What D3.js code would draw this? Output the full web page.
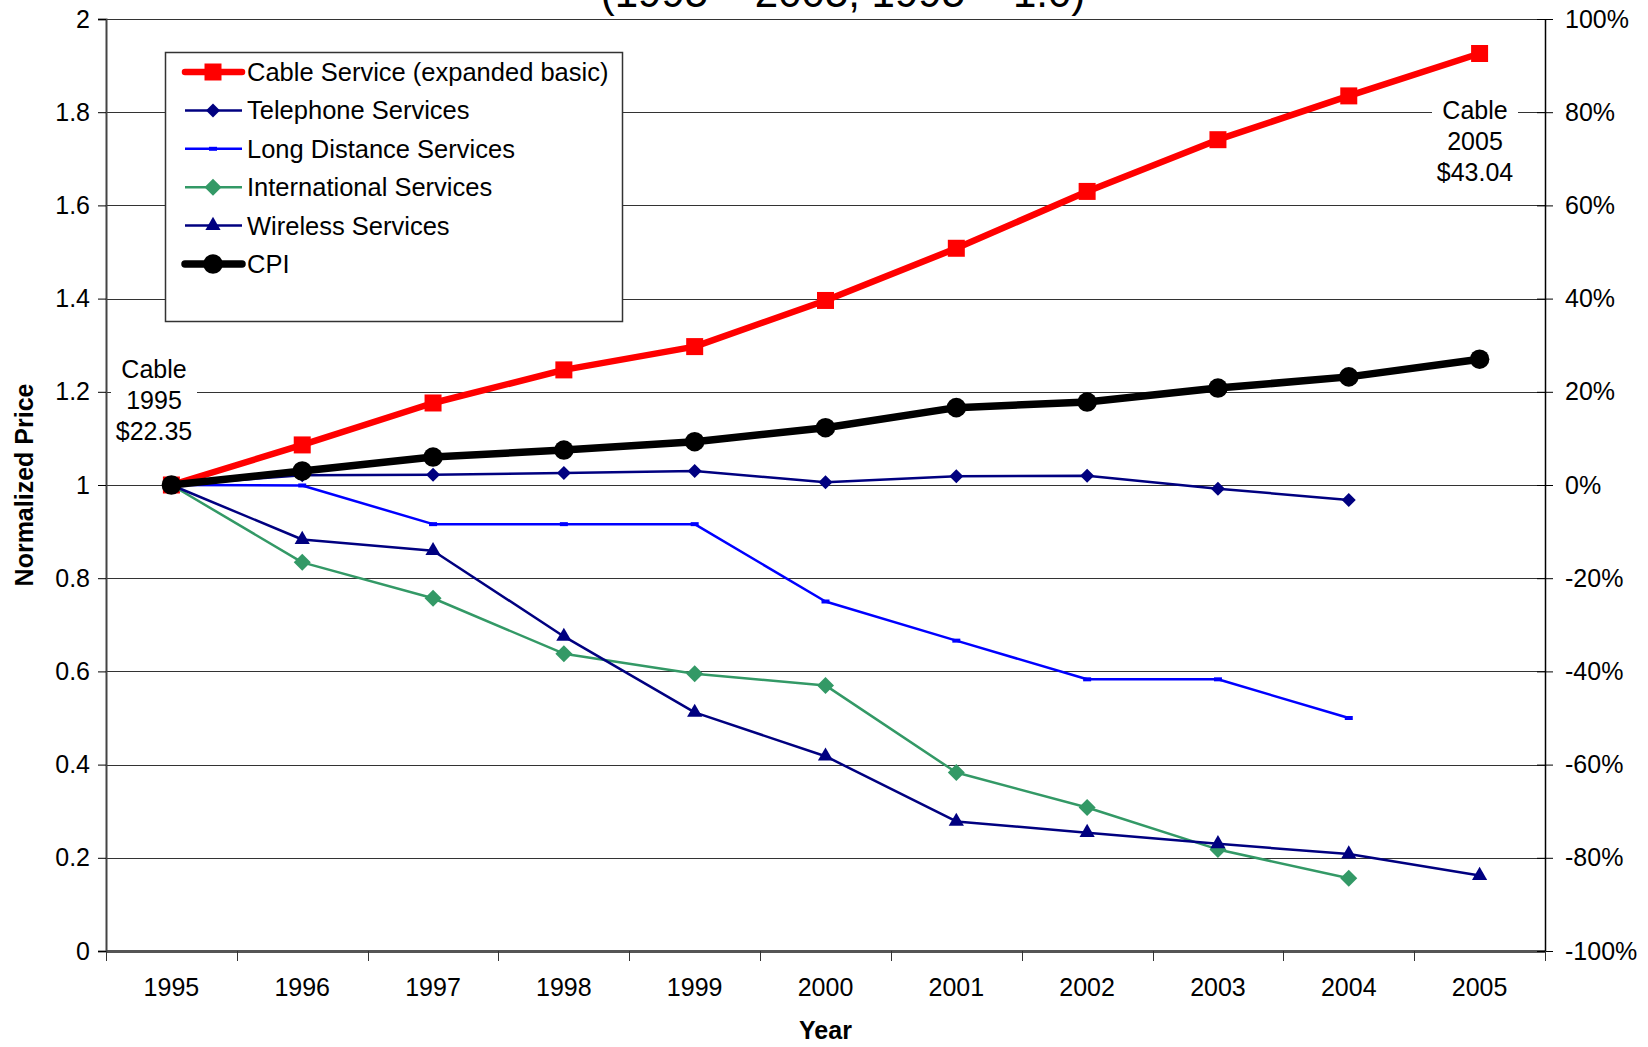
<!DOCTYPE html>
<html>
<head>
<meta charset="utf-8">
<script src="https://cdn.jsdelivr.net/npm/d3@7"></script>
<style>
  html, body { margin: 0; padding: 0; background: #fff; }
  svg { display: block; font-family: "Liberation Sans", Arial, sans-serif; }
</style>
</head>
<body>
<div id="chart"></div>
<script>
// Price indices, normalized to 1995 = 1.0
const years = ["1995", "1996", "1997", "1998", "1999", "2000", "2001", "2002", "2003", "2004", "2005"];
const cable = [1.000, 1.086, 1.176, 1.247, 1.297, 1.396, 1.508, 1.630, 1.741, 1.835, 1.926];
const telephone = [1.000, 1.021, 1.022, 1.026, 1.030, 1.006, 1.019, 1.020, 0.992, 0.968, null];
const longDistance = [1.000, 0.999, 0.916, 0.916, 0.916, 0.750, 0.666, 0.583, 0.583, 0.500, null];
const international = [1.000, 0.834, 0.757, 0.638, 0.595, 0.570, 0.383, 0.308, 0.218, 0.156, null];
const wireless = [1.000, 0.883, 0.859, 0.675, 0.512, 0.418, 0.278, 0.254, 0.230, 0.208, 0.162];
const cpi = [1.000, 1.030, 1.060, 1.075, 1.093, 1.123, 1.166, 1.178, 1.208, 1.232, 1.270];

const leftTicks = [0, 0.2, 0.4, 0.6, 0.8, 1, 1.2, 1.4, 1.6, 1.8, 2];
const rightTicks = [-100, -80, -60, -40, -20, 0, 20, 40, 60, 80, 100];

const series = [
    { name: "Cable Service (expanded basic)", values: cable, color: "#ff0000", width: 6.5, marker: "square" },
    { name: "Telephone Services", values: telephone, color: "#000080", width: 2.5, marker: "diamondSmall" },
    { name: "Long Distance Services", values: longDistance, color: "#0000ff", width: 2.5, marker: "dash" },
    { name: "International Services", values: international, color: "#339966", width: 2.5, marker: "diamond" },
    { name: "Wireless Services", values: wireless, color: "#000080", width: 2.5, marker: "triangle" },
    { name: "CPI", values: cpi, color: "#000000", width: 7.5, marker: "circle" }
];

const W = 1648, H = 1047;
const margin = { top: 19, right: 103, bottom: 96, left: 106 };
const width = W - margin.left - margin.right;
const height = H - margin.top - margin.bottom;

const root = d3.select("#chart").append("svg")
    .attr("width", W)
    .attr("height", H);

// title, second line only partly visible at the top edge
root.append("text")
    .attr("x", 843)
    .attr("y", 7)
    .attr("text-anchor", "middle")
    .attr("font-size", "42px")
    .text("(1995 \u2013 2005, 1995 = 1.0)");

const svg = root.append("g")
    .attr("transform", `translate(${margin.left},${margin.top})`);

const x = d3.scaleBand().domain(years).range([0, width]);
const y = d3.scaleLinear().domain([0, 2]).range([height, 0]);
const yR = d3.scaleLinear().domain([-100, 100]).range([height, 0]);
const cx = d => x(d) + x.bandwidth() / 2;

// Grid
svg.append("g")
    .selectAll("line")
    .data(leftTicks)
    .join("line")
    .attr("x1", 0)
    .attr("x2", width)
    .attr("y1", d => Math.round(y(d)) + 0.5)
    .attr("y2", d => Math.round(y(d)) + 0.5)
    .attr("stroke", d => d === 0 ? "#555" : "#333")
    .attr("stroke-width", d => d === 0 ? 3 : 1);

// Axes
const fontSize = "25px";
svg.append("g")
    .call(d3.axisLeft(y).tickValues(leftTicks).tickSize(8).tickPadding(8).tickFormat(d3.format("")))
    .call(g => g.select(".domain").attr("stroke", "#444").attr("stroke-width", 2))
    .call(g => g.selectAll("text").attr("font-size", fontSize).attr("fill", "#000").attr("font-family", "Liberation Sans, Arial, sans-serif"));

const right = svg.append("g")
    .attr("transform", `translate(${width},0)`)
    .call(d3.axisRight(yR).tickValues(rightTicks).tickSizeInner(8).tickSizeOuter(0).tickPadding(12).tickFormat(d => d + "%"))
    .call(g => g.select(".domain").attr("stroke", "#000").attr("stroke-width", 1.5))
    .call(g => g.selectAll("text").attr("font-size", fontSize).attr("fill", "#000").attr("font-family", "Liberation Sans, Arial, sans-serif"));
right.selectAll(".tick line").attr("x1", -8);

// category axis with ticks between the years
const xAxis = svg.append("g").attr("transform", `translate(0,${height})`);
xAxis.append("g")
    .selectAll("line")
    .data(d3.range(years.length + 1))
    .join("line")
    .attr("x1", i => Math.round(i * x.step()) + 0.5)
    .attr("x2", i => Math.round(i * x.step()) + 0.5)
    .attr("y1", 0)
    .attr("y2", 10)
    .attr("stroke", "#333");
xAxis.selectAll(".year")
    .data(years)
    .join("text")
    .attr("class", "year")
    .attr("x", d => cx(d))
    .attr("y", 45)
    .attr("text-anchor", "middle")
    .attr("font-size", fontSize)
    .text(d => d);

// Axis titles
svg.append("text")
    .attr("x", width / 2)
    .attr("y", height + 88)
    .attr("text-anchor", "middle")
    .attr("font-size", fontSize)
    .attr("font-weight", "bold")
    .text("Year");

svg.append("text")
    .attr("transform", `translate(${-73},${y(1)}) rotate(-90)`)
    .attr("text-anchor", "middle")
    .attr("font-size", fontSize)
    .attr("font-weight", "bold")
    .text("Normalized Price");

// Markers
function markerPath(type) {
    switch (type) {
        case "square": return d3.symbol(d3.symbolSquare, 289)();
        case "circle": return d3.symbol(d3.symbolCircle, 300)();
        case "triangle": return d3.symbol(d3.symbolTriangle, 100)();
        case "diamond": return "M0,-8.5L8.5,0L0,8.5L-8.5,0Z";
        case "diamondSmall": return "M0,-7L7,0L0,7L-7,0Z";
        case "dash": return "M-4,-2H4V2H-4Z";
    }
}

const line = d3.line()
    .defined(d => d.v != null)
    .x(d => cx(d.year))
    .y(d => y(d.v));

// Lines
series.forEach(s => {
    const pts = years.map((yr, i) => ({ year: yr, v: s.values[i] }));
    const g = svg.append("g");
    g.append("path")
        .datum(pts)
        .attr("fill", "none")
        .attr("stroke", s.color)
        .attr("stroke-width", s.width)
        .attr("stroke-linejoin", "round")
        .attr("d", line);
    g.selectAll("path.m")
        .data(pts.filter(d => d.v != null))
        .join("path")
        .attr("class", "m")
        .attr("transform", d => `translate(${cx(d.year)},${y(d.v)})`)
        .attr("d", markerPath(s.marker))
        .attr("fill", s.color);
});

// Annotations with white backing
function note(lines, px, py) {
    const g = svg.append("g").attr("transform", `translate(${px},${py})`);
    g.append("rect")
        .attr("x", -43).attr("y", -20)
        .attr("width", 86).attr("height", 96)
        .attr("fill", "#fff");
    g.selectAll("text")
        .data(lines)
        .join("text")
        .attr("x", 0)
        .attr("y", (d, i) => i * 31 + 9)
        .attr("text-anchor", "middle")
        .attr("font-size", fontSize)
        .text(d => d);
}
note(["Cable", "1995", "$22.35"], 48, 350);
note(["Cable", "2005", "$43.04"], 1369, 91);

// Legend
const legend = svg.append("g").attr("transform", "translate(59,33)");
legend.append("rect")
    .attr("x", 0.5).attr("y", 0.5)
    .attr("width", 457).attr("height", 269)
    .attr("fill", "#fff")
    .attr("stroke", "#333")
    .attr("stroke-width", 1.5);
const item = legend.selectAll(".item")
    .data(series)
    .join("g")
    .attr("class", "item")
    .attr("transform", (d, i) => `translate(0,${20 + i * 38.4})`);
item.append("line")
    .attr("x1", 20).attr("x2", 77)
    .attr("stroke", d => d.color)
    .attr("stroke-width", d => d.width)
    .attr("stroke-linecap", d => d.width > 4 ? "round" : "butt");
item.append("path")
    .attr("transform", "translate(48,0)")
    .attr("d", d => markerPath(d.marker))
    .attr("fill", d => d.color);
item.append("text")
    .attr("x", 82)
    .attr("y", 9)
    .attr("font-size", "25.5px")
    .text(d => d.name);
</script>
</body>
</html>
